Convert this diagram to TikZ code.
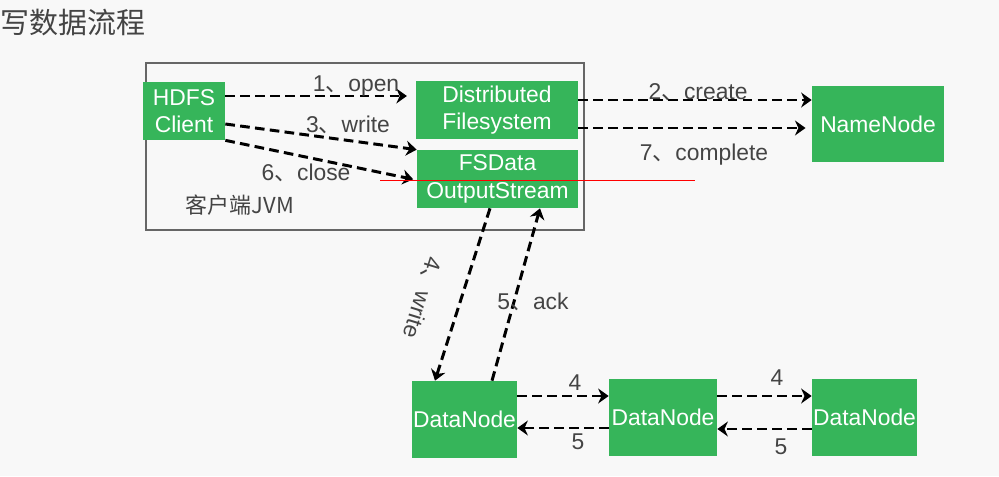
\documentclass[tikz,border=0pt]{standalone}
\usepackage{fontspec}
\setmainfont{Liberation Sans}
\newfontfamily\cjk{Noto Sans CJK SC}
\usetikzlibrary{arrows.meta}
\definecolor{boxgreen}{RGB}{54,181,90}
\definecolor{labelgray}{RGB}{68,68,68}
\definecolor{bggray}{RGB}{248,248,248}
\newcommand\dun{{\cjk 、}}
\begin{document}
\begin{tikzpicture}[x=0.02cm,y=-0.02cm,
  box/.style={fill=boxgreen,text=white,inner sep=0pt,align=center,font=\fontsize{13}{15.5}\selectfont},
  flow/.style={line width=1.7pt,dash pattern=on 5.5pt off 3pt,-{Stealth[length=6pt,width=8.5pt]}},
  lbl/.style={text=labelgray,font=\fontsize{13}{15}\selectfont,inner sep=0pt}]
\fill[bggray] (0,0) rectangle (999,476);
\useasboundingbox (0,0) rectangle (999,476);
\node[text=labelgray,font=\cjk\fontsize{16.5}{20}\selectfont,anchor=west,inner sep=0pt] (title) at (0,23) {写数据流程};
\draw[gray!80!black,line width=0.7pt] (146,63) rectangle (584,230);
\node[box,minimum width=1.64cm,minimum height=1.16cm] (client) at (184,111) {HDFS\\Client};
\node[box,minimum width=3.24cm,minimum height=1.16cm] (dfs) at (497,110) {Distributed\\Filesystem};
\node[box,minimum width=3.22cm,minimum height=1.16cm] (fsout) at (497.5,179) {FSData\\OutputStream};
\node[box,minimum width=2.64cm,minimum height=1.52cm] (nn) at (878,124) {NameNode};
\node[box,minimum width=2.1cm,minimum height=1.54cm] (dn1) at (464.5,419.5) {DataNode};
\node[box,minimum width=2.16cm,minimum height=1.54cm] (dn2) at (663,417.5) {DataNode};
\node[box,minimum width=2.1cm,minimum height=1.54cm] (dn3) at (864.5,417.5) {DataNode};
\node[lbl,font=\cjk\fontsize{12.5}{14}\selectfont] (jvm) at (240,205) {客户端JVM};
\draw[flow,shorten >=5pt] (client.east |- 0,96) -- (dfs.west |- 0,96);
\draw[flow] (client.east |- 0,124) -- (fsout.north west);
\draw[flow,shorten >=2pt] (client.south east) -- (fsout.west |- 0,180);
\draw[flow] (dfs.east |- 0,100) -- (nn.west |- 0,100);
\draw[flow,shorten >=3.5pt] (dfs.east |- 0,128) -- (nn.west |- 0,128);
\draw[flow] (490,0 |- fsout.south) -- (435,0 |- dn1.north);
\draw[flow] (492,0 |- dn1.north) -- (540,0 |- fsout.south);
\draw[flow] (dn1.east |- 0,396) -- (dn2.west |- 0,396);
\draw[flow] (dn2.west |- 0,428) -- (dn1.east |- 0,428);
\draw[flow] (dn2.east |- 0,396) -- (dn3.west |- 0,396);
\draw[flow] (dn3.west |- 0,429) -- (dn2.east |- 0,429);
\node[lbl] (lopen) at (356,86) {1\dun open};
\node[lbl] (lwrite) at (348,125) {3\dun write};
\node[lbl] (lclose) at (306,173) {6\dun close};
\node[lbl] (lcreate) at (698,92) {2\dun create};
\node[lbl] (lcomplete) at (704,155) {7\dun complete};
\node[lbl,rotate=-107] (lpipe) at (422,298) {4\dun write};
\node[lbl] (lack) at (533,302) {5\dun ack};
\node[lbl] (lfwda) at (575,383) {4};
\node[lbl] (lbacka) at (578,442) {5};
\node[lbl] (lfwdb) at (777,378) {4};
\node[lbl] (lbackb) at (781,447) {5};
\draw[red,line width=0.35pt] (380,180) -- (695,180);
\end{tikzpicture}
\end{document}
